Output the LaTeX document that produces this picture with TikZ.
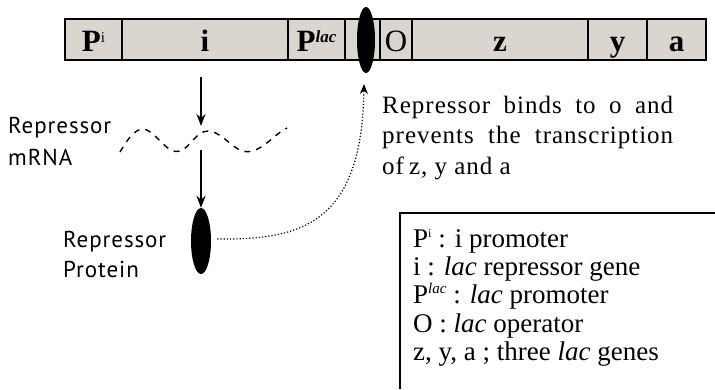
\documentclass[tikz,border=0pt]{standalone}
\usepackage{fontspec}
\setmainfont{Liberation Serif}
\newfontfamily\lblfont[LetterSpace=4]{PT Sans}
\newfontfamily\expfont[LetterSpace=4]{Liberation Serif}
\usetikzlibrary{arrows.meta,shapes.geometric}
\definecolor{barfill}{RGB}{218,213,206}
\newcommand{\jline}[1]{\hbox to 291pt{#1}}
\begin{document}
\begin{tikzpicture}[x=1pt,y=-1pt,
  cell/.style={draw=black, line width=1.3pt, fill=barfill, minimum height=41pt, inner sep=0pt,
               text height=24pt, text depth=0pt,
               font=\fontsize{31}{31}\selectfont\bfseries},
  lbl/.style={anchor=base west, inner sep=0pt, font=\lblfont\fontsize{23}{23}\selectfont},
  expl/.style={anchor=base west, inner sep=0pt, font=\expfont\fontsize{25}{25}\selectfont},
  leg/.style={anchor=base west, inner sep=0pt, font=\fontsize{27}{27}\selectfont},
  arr/.style={line width=1.6pt, -{Stealth[length=12pt,width=9pt]}},
  blob/.style={ellipse, fill=black, draw=none, inner sep=0pt}]
\useasboundingbox (0,0) rectangle (715,389);
% gene bar
\node[cell, minimum width=57pt]  (pi)   at (93.5,39.5)  {P\raisebox{0.65ex}{\fontsize{15}{15}\selectfont\mdseries i}};
\node[cell, minimum width=166pt] (ig)   at (205,39.5)   {i};
\node[cell, minimum width=57pt]  (plac) at (316.5,39.5) {P\raisebox{0.6ex}{\fontsize{17}{17}\selectfont\itshape lac}};
\node[cell, minimum width=35pt]  (gap)  at (362.5,39.5) {};
\node[cell, minimum width=32pt]  (og)   at (396,39.5)   {\mdseries O};
\node[cell, minimum width=176pt] (zg)   at (500,39.5)   {z};
\node[cell, minimum width=59pt]  (yg)   at (617.5,39.5) {y};
\node[cell, minimum width=59pt]  (ag)   at (676.5,39.5) {a};
% bound repressor
\node[blob, minimum width=18pt, minimum height=66pt] (op) at (366,40) {};
% mRNA
\node[lbl] (mrna1) at (8,133) {Repressor};
\node[lbl] (mrna2) at (8,165) {mRNA};
\draw[line width=1.4pt, dash pattern=on 6pt off 6pt]
  (120,152) .. controls (130,135) and (138,126) .. (147,130)
  .. controls (160,137) and (168,155) .. (180,151)
  .. controls (190,148) and (196,131) .. (208,131)
  .. controls (225,132) and (235,156) .. (252,151)
  .. controls (265,148) and (276,133) .. (287,128);
\coordinate (a1s) at (201,77);
\coordinate (a1e) at (201,126);
\coordinate (a2s) at (201,150);
\draw[arr] (a1s) -- (a1e);
% free repressor protein
\node[blob, minimum width=20pt, minimum height=66pt] (prot) at (201,241) {};
\draw[arr] (a2s) -- (prot.north);
\node[lbl] (prot1) at (63,247) {Repressor};
\node[lbl] (prot2) at (63,277) {Protein};
% binding connector
\coordinate (optip) at (364,84);
\draw[line width=1.2pt, dotted, -{Stealth[length=10pt,width=8pt]}]
  ([xshift=6pt,yshift=2pt]prot.east) .. controls (300,240) and (362,225) .. (optip);
% explanation
\node[expl] (ex1) at (382,113) {\jline{Repressor\hfil\ binds\hfil\ to\hfil\ o\hfil\ and}};
\node[expl] (ex2) at (382,143.5) {\jline{prevents\hfil\ the\hfil\ transcription}};
\node[expl] (ex3) at (382,174) {of\hspace{5pt}z, y and a};
% legend
\draw[line width=1.2pt] (400,389) -- (400,213) -- (715,213);
\node[leg] (l1) at (413,247) {P\raisebox{0.75ex}{\fontsize{12}{12}\selectfont i} : i promoter};
\node[leg] (l2) at (413,275) {i : \textit{lac} repressor gene};
\node[leg] (l3) at (413,303) {P\raisebox{0.75ex}{\fontsize{15}{15}\selectfont\itshape lac} : \textit{lac} promoter};
\node[leg] (l4) at (413,332) {O : \textit{lac} operator};
\node[leg] (l5) at (413,360) {z, y, a ; three \textit{lac} genes};
\end{tikzpicture}
\end{document}
